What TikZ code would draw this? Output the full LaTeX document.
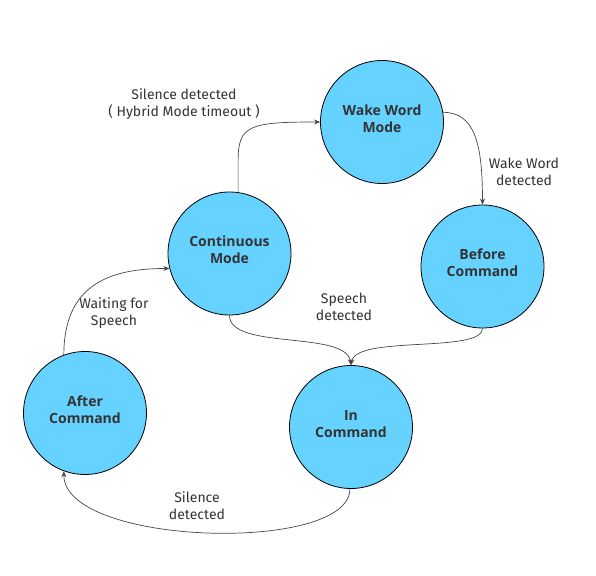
\documentclass[tikz,border=0pt]{standalone}
\usepackage{fontspec}
\setmainfont{Fira Sans}
\newfontfamily\nodefont{Open Sans}
\usetikzlibrary{arrows.meta}
\definecolor{stfill}{RGB}{102,210,255}
\definecolor{txt}{RGB}{51,51,51}
\definecolor{edgec}{RGB}{70,70,70}
\tikzset{
  state/.style={circle,draw=black,line width=0.8pt,fill=stfill,minimum size=123pt,inner sep=0pt,
    font=\nodefont\fontsize{14}{17}\selectfont\bfseries,text=txt,align=center,text depth=7pt},
  trans/.style={draw=edgec,line width=0.7pt,-{Stealth[length=6pt,width=5pt]}},
  lbl/.style={font=\fontsize{14}{17}\selectfont,text=txt,align=center,inner sep=0pt}
}
\begin{document}
\begin{tikzpicture}[x=1pt,y=-1pt]
\useasboundingbox (0,0) rectangle (596,575);
\node[state] (wake) at (382,122) {Wake Word\\Mode};
\node[state] (cont) at (229.5,253.5) {Continuous\\Mode};
\node[state] (before) at (482.5,266.5) {Before\\Command};
\node[state] (in) at (351,427) {In\\Command};
\node[state] (after) at (85,413) {After\\Command};

\node[lbl] (l1) at (184,104) {Silence detected\\( Hybrid Mode timeout )};
\node[lbl] (l2) at (524,171.5) {Wake Word\\detected};
\node[lbl] (l3) at (344,306.5) {Speech\\detected};
\node[lbl] (l4) at (114,313.5) {Waiting for\\Speech};
\node[lbl] (l5) at (197,506) {Silence\\detected};

\draw[trans] (cont.82) -- ++(0,-32) .. controls +(0,-35) and +(-70,0) .. (wake.west);
\draw[trans] (wake.9) .. controls +(32,0) and +(0,-60) .. (before.north);
\draw[trans] (cont.south) .. controls +(0,35) and +(-5,-35) .. (in.north);
\draw[trans] (before.south) .. controls +(0,25) and +(5,-30) .. (in.north);
\draw[trans] (in.269) .. controls +(0,65) and +(0,75) .. (after.250);
\draw[trans] (after.110) .. controls +(0,-70) and +(-60,0) .. (cont.194);
\end{tikzpicture}
\end{document}
